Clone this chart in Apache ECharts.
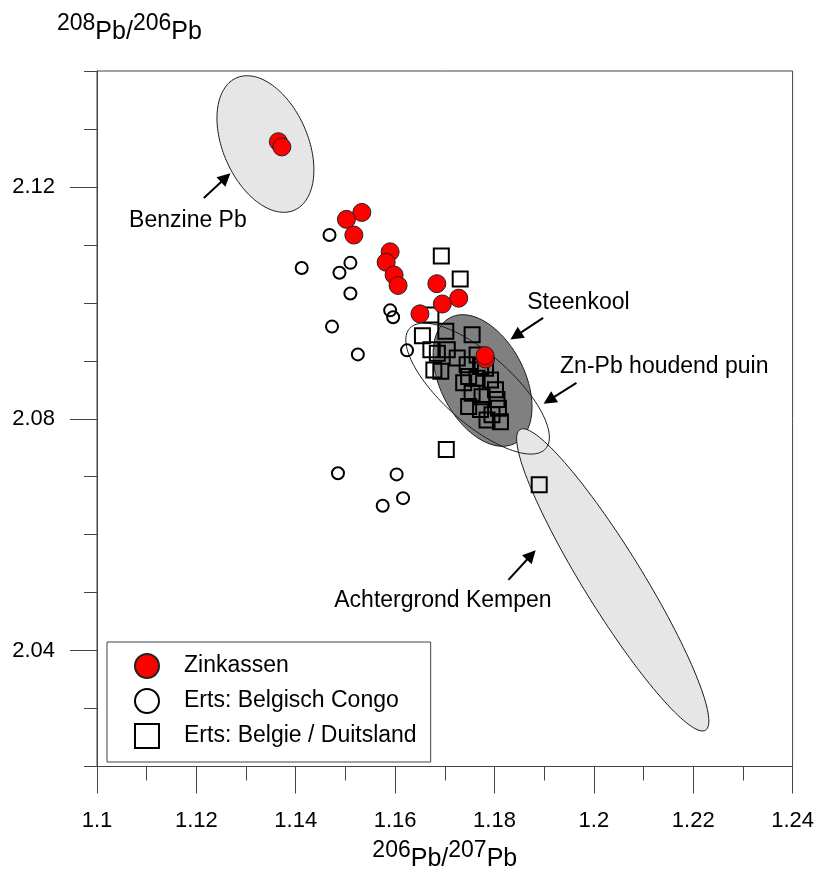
<!DOCTYPE html>
<html>
<head>
<meta charset="utf-8">
<title>Pb isotopen</title>
<script src="https://cdn.jsdelivr.net/npm/echarts@6.0.0/dist/echarts.min.js"></script>
<style>
  html, body { margin: 0; padding: 0; background: #fff; }
  #chart { width: 817px; height: 877px; }
</style>
</head>
<body>
<div id="chart"></div>
<script>
// metingen: [206Pb/207Pb, 208Pb/206Pb]
const zinkassen = [
  [1.1365, 2.1278], [1.1372, 2.1269],
  [1.1533, 2.1156], [1.1502, 2.1144], [1.1517, 2.1117],
  [1.1590, 2.1088], [1.1582, 2.1070], [1.1598, 2.1048], [1.1606, 2.1030],
  [1.1684, 2.1033], [1.1728, 2.1008], [1.1695, 2.0998], [1.1650, 2.0981],
  [1.1782, 2.0903], [1.1781, 2.0909]
]

const belgischCongo = [
  [1.1468, 2.1117], [1.1412, 2.1060], [1.1510, 2.1069], [1.1488, 2.1052],
  [1.1510, 2.1016], [1.1473, 2.0959], [1.1525, 2.0911], [1.1590, 2.0987],
  [1.1596, 2.0975], [1.1624, 2.0918], [1.1485, 2.0706], [1.1603, 2.0704],
  [1.1575, 2.0650], [1.1616, 2.0663]
]

const belgieDuitsland = [
  [1.1693, 2.1081], [1.1731, 2.1041], [1.1703, 2.0747], [1.1890, 2.0686],
  [1.1672, 2.0979], [1.1655, 2.0943], [1.1702, 2.0951], [1.1755, 2.0945],
  [1.1672, 2.0919], [1.1685, 2.0913], [1.1705, 2.0919], [1.1725, 2.0905],
  [1.1678, 2.0884], [1.1692, 2.0882], [1.1745, 2.0893], [1.1765, 2.0910],
  [1.1772, 2.0890], [1.1782, 2.0887], [1.1748, 2.0873], [1.1765, 2.0870],
  [1.1792, 2.0867], [1.1738, 2.0862], [1.1802, 2.0850], [1.1755, 2.0844],
  [1.1775, 2.0838], [1.1805, 2.0833], [1.1748, 2.0821], [1.1772, 2.0816],
  [1.1808, 2.0818], [1.1795, 2.0807], [1.1785, 2.0798], [1.1812, 2.0795]
]

// ellipsen: middelpunt en twee toegevoegde halve assen (in data-eenheden)
const ellipseNames = ['Benzine Pb', 'Steenkool', 'Achtergrond Kempen', 'Zn-Pb houdend puin']
const ellipseCenter = [[1.1339, 2.1274], [1.1776, 2.0866], [1.2038, 2.0522], [1.1766, 2.0852]]
const ellipseAxisU = [[0.00586, -0.01140], [0.00652, -0.01084], [0.01868, -0.02593], [0.01370, -0.01036]]
const ellipseAxisV = [[-0.00780, -0.00298], [-0.00752, -0.00336], [-0.00502, -0.00269], [-0.00458, -0.00450]]

// bijschriften en pijlen
const noteText = ['Benzine Pb', 'Steenkool', 'Zn-Pb houdend puin', 'Achtergrond Kempen']
const noteAt = [[1.1183, 2.1141], [1.1866, 2.1000], [1.1932, 2.0890], [1.1915, 2.0486]]
const arrowFrom = [[1.1215, 2.1181], [1.1898, 2.0974], [1.1965, 2.0862], [1.1828, 2.0522]]
const arrowTo = [[1.1259, 2.1216], [1.1843, 2.0943], [1.1910, 2.0832], [1.1874, 2.0565]]

// as-labels
const yLabelValues = [2.04, 2.08, 2.12]

const FONT = 'Liberation Sans, Arial, sans-serif'
const AXIS_COLOR = '#444'
const ellipseFill = ['#e6e6e6', '#808080', '#e6e6e6', 'none']
const noteAlign = ['center', 'left', 'left', 'right']

const titleRich = {
  s: { fontSize: 23, lineHeight: 23, verticalAlign: 'top', fontFamily: FONT, color: '#000' },
  b: { fontSize: 25, lineHeight: 40, fontFamily: FONT, color: '#000' }
}

const chart = echarts.init(document.getElementById('chart'))

// ellips tekenen via de assen van de grafiek
const renderEllipse = (params, api) => {
  const c = api.coord([api.value(0), api.value(1)])
  const u = api.coord([api.value(0) + api.value(2), api.value(1) + api.value(3)])
  const v = api.coord([api.value(0) + api.value(4), api.value(1) + api.value(5)])
  const ux = u[0] - c[0], uy = u[1] - c[1]
  const vx = v[0] - c[0], vy = v[1] - c[1]
  const pts = []
  for (let k = 0; k < 144; k++) {
    const t = k / 144 * Math.PI * 2
    pts.push([c[0] + Math.cos(t) * ux + Math.sin(t) * vx, c[1] + Math.cos(t) * uy + Math.sin(t) * vy])
  }
  return {
    type: 'polygon',
    shape: { points: pts },
    style: { fill: ellipseFill[params.dataIndex], stroke: '#1a1a1a', lineWidth: 1 }
  }
}

const renderNote = (params, api) => {
  const p = api.coord([api.value(0), api.value(1)])
  return {
    type: 'text',
    x: p[0],
    y: p[1],
    style: {
      text: noteText[params.dataIndex],
      align: noteAlign[params.dataIndex],
      verticalAlign: 'middle',
      fontSize: 23,
      fontFamily: FONT,
      fill: '#000'
    }
  }
}

const option = {
  animation: false,
  backgroundColor: '#fff',
  grid: {
    left: 97, top: 71, width: 700, height: 696,
    show: true, borderColor: AXIS_COLOR, borderWidth: 1, backgroundColor: 'transparent'
  },
  xAxis: {
    type: 'value',
    min: 1.1, max: 1.24, interval: 0.02,
    name: '{s|206}{b|Pb/}{s|207}{b|Pb}',
    nameLocation: 'middle',
    nameGap: 73,
    nameTextStyle: { rich: titleRich },
    axisLine: { show: true, lineStyle: { color: AXIS_COLOR, width: 1 } },
    axisTick: { show: true, length: 27, lineStyle: { color: AXIS_COLOR } },
    minorTick: { show: true, splitNumber: 2, length: 14, lineStyle: { color: AXIS_COLOR, width: 1 } },
    axisLabel: { margin: 43, fontSize: 22, fontFamily: FONT, color: '#000' },
    splitLine: { show: false },
    minorSplitLine: { show: false }
  },
  yAxis: [
    {
      type: 'value',
      min: 2.02, max: 2.14, interval: 0.01,
      axisLine: { show: true, lineStyle: { color: AXIS_COLOR, width: 1 } },
      axisTick: { show: true, length: 13, lineStyle: { color: AXIS_COLOR } },
      axisLabel: { show: false },
      splitLine: { show: false }
    },
    {
      type: 'value',
      min: 2.02, max: 2.14,
      position: 'left',
      axisLine: { show: true, lineStyle: { color: AXIS_COLOR, width: 1 } },
      axisTick: { show: true, length: 27, customValues: yLabelValues, lineStyle: { color: AXIS_COLOR } },
      axisLabel: {
        customValues: yLabelValues,
        margin: 42, fontSize: 22, fontFamily: FONT, color: '#000',
        formatter: v => v.toFixed(2)
      },
      splitLine: { show: false }
    }
  ],
  legend: {
    orient: 'vertical',
    left: 107, top: 642,
    padding: [11, 14, 13, 27],
    itemGap: 9,
    itemWidth: 24, itemHeight: 24,
    borderColor: AXIS_COLOR, borderWidth: 1, backgroundColor: '#fff',
    textStyle: { fontSize: 23, fontFamily: FONT, color: '#000', padding: [0, 0, 0, 20] },
    data: ['Zinkassen', 'Erts: Belgisch Congo', 'Erts: Belgie / Duitsland'],
    selectedMode: false
  },
  graphic: [
    {
      type: 'text', left: 57, top: 12,
      style: { text: '{s|208}{b|Pb/}{s|206}{b|Pb}', rich: titleRich, fill: '#000' }
    }
  ],
  series: [
    {
      type: 'custom',
      name: 'ellipsen',
      renderItem: renderEllipse,
      data: ellipseCenter.map((c, i) => [c[0], c[1], ellipseAxisU[i][0], ellipseAxisU[i][1], ellipseAxisV[i][0], ellipseAxisV[i][1]]),
      silent: true
    },
    {
      type: 'scatter',
      name: 'Erts: Belgie / Duitsland',
      data: belgieDuitsland,
      symbol: 'rect',
      symbolSize: 15,
      itemStyle: { color: 'transparent', borderColor: '#000', borderWidth: 2, opacity: 1 }
    },
    {
      type: 'scatter',
      name: 'Erts: Belgisch Congo',
      data: belgischCongo,
      symbol: 'circle',
      symbolSize: 12,
      itemStyle: { color: 'transparent', borderColor: '#000', borderWidth: 2, opacity: 1 }
    },
    {
      type: 'scatter',
      name: 'Zinkassen',
      data: zinkassen,
      symbol: 'circle',
      symbolSize: 18,
      itemStyle: { color: '#ff0000', borderColor: '#222', borderWidth: 1, opacity: 1 }
    },
    {
      type: 'lines',
      name: 'pijlen',
      coordinateSystem: 'cartesian2d',
      data: arrowFrom.map((p, i) => ({ coords: [p, arrowTo[i]] })),
      symbol: ['none', 'triangle'],
      symbolSize: 13,
      lineStyle: { color: '#000', width: 2, opacity: 1, curveness: 0 },
      silent: true
    },
    {
      type: 'custom',
      name: 'bijschriften',
      renderItem: renderNote,
      data: noteAt,
      silent: true
    }
  ]
}

chart.setOption(option)
</script>
</body>
</html>
